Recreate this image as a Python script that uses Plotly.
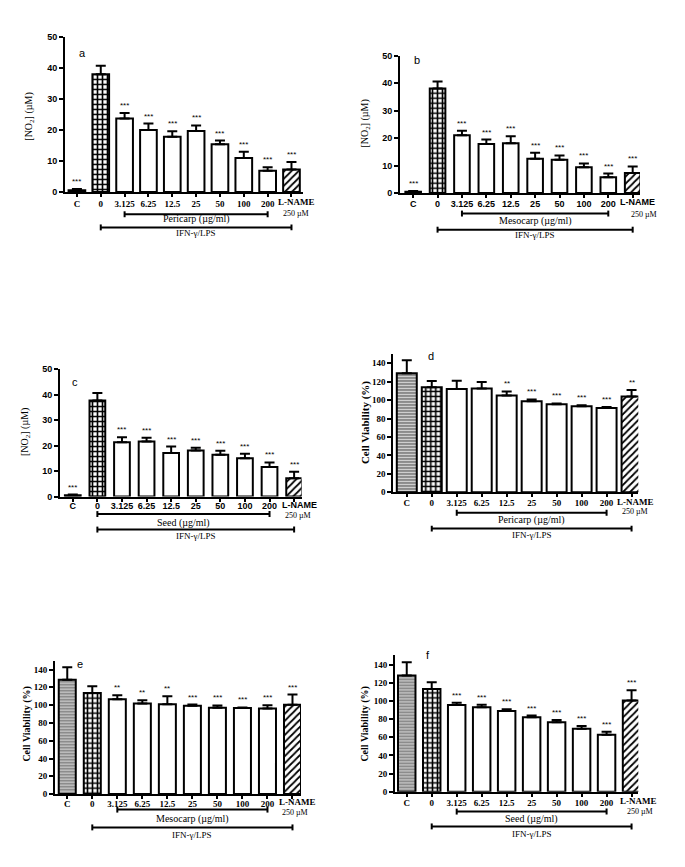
import plotly.graph_objects as go

# ---------------- data ----------------
categories = ["C", "0", "3.125", "6.25", "12.5", "25", "50", "100", "200", "L-NAME"]

no2_pericarp = [0.6, 38.0, 23.7, 20.0, 17.8, 19.7, 15.4, 11.0, 6.9, 7.3]
no2_pericarp_err = [0.4, 2.7, 1.8, 2.1, 1.8, 1.8, 1.2, 2.0, 1.1, 2.4]
no2_pericarp_sig = ["***", "", "***", "***", "***", "***", "***", "***", "***", "***"]

no2_mesocarp = [0.5, 38.1, 21.1, 17.9, 18.1, 12.5, 12.1, 9.4, 5.8, 7.3]
no2_mesocarp_err = [0.3, 2.5, 1.6, 1.6, 2.6, 2.2, 1.6, 1.4, 1.3, 2.4]
no2_mesocarp_sig = ["***", "", "***", "***", "***", "***", "***", "***", "***", "***"]

no2_seed = [0.5, 37.7, 21.3, 21.6, 17.1, 18.1, 16.4, 15.0, 11.6, 7.2]
no2_seed_err = [0.3, 2.9, 2.0, 1.5, 2.5, 1.0, 1.6, 1.8, 1.8, 2.5]
no2_seed_sig = ["***", "", "***", "***", "***", "***", "***", "***", "***", "***"]

via_pericarp = [129.0, 113.9, 112.1, 112.5, 105.0, 98.6, 95.4, 93.2, 91.4, 103.9]
via_pericarp_err = [14.2, 6.8, 8.9, 7.1, 4.3, 2.1, 1.0, 1.1, 1.1, 7.1]
via_pericarp_sig = ["", "", "", "", "**", "***", "***", "***", "***", "**"]

via_mesocarp = [128.5, 113.7, 106.7, 101.9, 101.1, 99.3, 97.0, 96.7, 96.3, 100.4]
via_mesocarp_err = [14.1, 7.4, 4.4, 3.7, 8.9, 1.4, 2.6, 0.7, 3.7, 11.5]
via_mesocarp_sig = ["", "", "**", "**", "**", "***", "***", "***", "***", "***"]

via_seed = [128.0, 113.2, 95.4, 92.9, 88.9, 82.0, 76.5, 69.3, 62.8, 100.5]
via_seed_err = [14.5, 7.2, 2.5, 2.9, 1.8, 1.8, 2.6, 3.2, 3.2, 11.2]
via_seed_sig = ["", "", "***", "***", "***", "***", "***", "***", "***", "***"]

panel_letters = ["a", "b", "c", "d", "e", "f"]
extract_labels = ["Pericarp (µg/ml)", "Mesocarp (µg/ml)", "Seed (µg/ml)",
                  "Pericarp (µg/ml)", "Mesocarp (µg/ml)", "Seed (µg/ml)"]
extract_start = ["3.125", "3.125", "0", "3.125", "3.125", "3.125"]
stim_label = "IFN-γ/LPS"
lname_dose = "250 µM"
no2_title = "[NO<sub>2</sub>] (µM)"
via_title = "Cell Viability (%)"

# ---------------- layout geometry (pixels) ----------------
W, H = 685, 867
SERIF = "Liberation Serif"
SANS = "Liberation Sans"

panels = [
    dict(vals=no2_pericarp, err=no2_pericarp_err, sig=no2_pericarp_sig, kind="no2",
         left=65, right=303.4, top=32.3, bottom=189.3, xr=[-0.5, 9.5], yr=[0, 50], dtick=10,
         xfont=SERIF, yfont=SANS, width=0.7, title_xy=(30, 113), title_size=10, letter_xy=(82, 49),
         standoff=-1, lab=10, lshift=5, dshift=5,
         off=dict(br1=22.4, lb1=27.4, br2=35.7, lb2=41.4, dose=21.5)),
    dict(vals=no2_mesocarp, err=no2_mesocarp_err, sig=no2_mesocarp_sig, kind="no2",
         left=400, right=640, top=51.3, bottom=190.3, xr=[-0.54, 9.3], yr=[0, 50], dtick=10,
         xfont=SANS, yfont=SANS, width=0.64, title_xy=(366, 120), title_size=10, letter_xy=(417, 56),
         standoff=-2, lab=8.7, lshift=5, dshift=11,
         off=dict(br1=20.7, lb1=28, br2=37, lb2=42.7, dose=21.5)),
    dict(vals=no2_seed, err=no2_seed_err, sig=no2_seed_sig, kind="no2",
         left=60, right=301.5, top=368.3, bottom=497.3, xr=[-0.52, 9.3], yr=[0, 50], dtick=10,
         xfont=SANS, yfont=SANS, width=0.64, title_xy=(25, 432), title_size=10, letter_xy=(75, 381),
         standoff=-3, lab=8.4, lshift=5, dshift=4,
         off=dict(br1=17.7, lb1=26.7, br2=33.4, lb2=39.7, dose=19.5)),
    dict(vals=via_pericarp, err=via_pericarp_err, sig=via_pericarp_sig, kind="via",
         left=393.3, right=638.3, top=353, bottom=493, xr=[-0.54, 9.27], yr=[0, 150], dtick=20,
         xfont=SERIF, yfont=SERIF, width=0.8, title_xy=(365, 423), title_size=11, letter_xy=(431, 355),
         standoff=-2, lab=9.3, lshift=4, dshift=3,
         off=dict(br1=20.7, lb1=28.3, br2=36.7, lb2=43, dose=19)),
    dict(vals=via_mesocarp, err=via_mesocarp_err, sig=via_mesocarp_sig, kind="via",
         left=55, right=301, top=663.3, bottom=798.3, xr=[-0.49, 9.34], yr=[0, 150], dtick=20,
         xfont=SERIF, yfont=SERIF, width=0.68, title_xy=(27, 727), title_size=10, letter_xy=(80, 667),
         standoff=-3, lab=8.4, lshift=5, dshift=3,
         off=dict(br1=15.7, lb1=25, br2=33.7, lb2=41, dose=19)),
    dict(vals=via_seed, err=via_seed_err, sig=via_seed_sig, kind="via",
         left=395, right=638.3, top=658, bottom=796, xr=[-0.47, 9.27], yr=[0, 150], dtick=20,
         xfont=SERIF, yfont=SERIF, width=0.7, title_xy=(365, 727), title_size=10, letter_xy=(428, 658),
         standoff=-2, lab=9, lshift=7, dshift=8,
         off=dict(br1=20, lb1=27.3, br2=35, lb2=43, dose=19.5)),
]


def group_style(cat, kind):
    if cat == "C":
        if kind == "no2":
            return "C", dict(color="black")
        return "C", dict(color="#8c8c8c",
                         pattern=dict(shape="-", fgcolor="#d4d4d4", bgcolor="#8c8c8c",
                                      size=3, solidity=0.35, fillmode="replace"))
    if cat == "0":
        return "0", dict(color="white",
                         pattern=dict(shape="+", fgcolor="black", bgcolor="white",
                                      size=5, solidity=0.55, fillmode="replace"))
    if cat == "L-NAME":
        return "L", dict(color="white",
                         pattern=dict(shape="/", fgcolor="black", bgcolor="white",
                                      size=5, solidity=0.35, fillmode="replace"))
    return "E", dict(color="white")


LAST = "L-NAME"
xs = list(range(len(categories)))
s1 = categories.index(LAST)
# the last category label sits slightly right of its bar in the original, so it is drawn separately
main_tickvals = [x for x, c in zip(xs, categories) if c != LAST]
main_ticktext = [c for c in categories if c != LAST]

fig = go.Figure()
annotations = []
shapes = []

for i, p in enumerate(panels):
    n = "" if i == 0 else str(i + 1)
    xa, ya = "x" + n, "y" + n

    groups = {}
    for j, c in enumerate(categories):
        key, mk = group_style(c, p["kind"])
        g = groups.setdefault(key, dict(idx=[], mk=mk))
        g["idx"].append(j)
    for key, g in groups.items():
        idx = g["idx"]
        mk = dict(g["mk"])
        mk["line"] = dict(color="black", width=2)
        fig.add_trace(go.Bar(
            x=[xs[j] for j in idx], y=[p["vals"][j] for j in idx], xaxis=xa, yaxis=ya,
            width=p["width"], marker=mk,
            error_y=dict(type="data", array=[p["err"][j] for j in idx],
                         arrayminus=[0] * len(idx), symmetric=False,
                         color="black", thickness=2, width=5),
            showlegend=False, hoverinfo="skip",
        ))

    hpx = p["bottom"] - p["top"]
    xfont = dict(family=p["xfont"], size=9, color="black", weight="bold")
    layout_x = dict(
        domain=[p["left"] / W, p["right"] / W], range=p["xr"], anchor=ya,
        tickmode="array", tickvals=main_tickvals, ticktext=main_ticktext, tickangle=0,
        ticklabelstandoff=p["standoff"], tickfont=xfont,
        showline=True, linecolor="black", linewidth=2, ticks="outside", ticklen=3,
        tickwidth=1.5, tickcolor="black", showgrid=False, zeroline=False, fixedrange=True,
        minor=dict(tickmode="array", tickvals=[xs[s1]], ticks="outside", ticklen=3,
                   tickwidth=1.5, tickcolor="black", showgrid=False),
    )
    layout_y = dict(
        domain=[1 - p["bottom"] / H, 1 - p["top"] / H], range=p["yr"], anchor=xa,
        dtick=p["dtick"], tick0=0,
        tickfont=dict(family=p["yfont"], size=9, color="black", weight="bold"),
        showline=True, linecolor="black", linewidth=2, ticks="outside", ticklen=4,
        tickwidth=1.5, tickcolor="black", showgrid=False, zeroline=False, fixedrange=True,
    )
    fig.update_layout(**{("xaxis" + n): layout_x, ("yaxis" + n): layout_y})

    # significance stars
    for j, s in enumerate(p["sig"]):
        if s:
            annotations.append(dict(
                x=xs[j], y=p["vals"][j] + p["err"][j], xref=xa, yref=ya, text=s,
                showarrow=False, xanchor="center", yanchor="bottom", yshift=1,
                font=dict(family=SANS, size=8, color="black")))

    off = p["off"]
    ydom = ya + " domain"

    # last category label
    annotations.append(dict(x=xs[s1], y=-p["lab"] / hpx, xref=xa, yref=ydom, text=LAST,
                            showarrow=False, xanchor="center", yanchor="middle",
                            xshift=p["lshift"], font=xfont))

    def bracket(x0, x1, offpx):
        yy = -offpx / hpx
        cap = 3.0 / hpx
        shapes.append(dict(type="line", xref=xa, yref=ydom, x0=x0, x1=x1, y0=yy, y1=yy,
                           line=dict(color="black", width=2)))
        for xx in (x0, x1):
            shapes.append(dict(type="line", xref=xa, yref=ydom, x0=xx, x1=xx,
                               y0=yy - cap, y1=yy + cap, line=dict(color="black", width=2)))

    e0 = categories.index(extract_start[i])
    e1 = categories.index("200")
    bracket(e0, e1, off["br1"])
    annotations.append(dict(x=(e0 + e1) / 2, y=-off["lb1"] / hpx, xref=xa, yref=ydom,
                            text=extract_labels[i], showarrow=False, xanchor="center",
                            yanchor="middle", font=dict(family=SERIF, size=10, color="black")))
    s0 = categories.index("0")
    bracket(s0, s1, off["br2"])
    annotations.append(dict(x=(s0 + s1) / 2, y=-off["lb2"] / hpx, xref=xa, yref=ydom,
                            text=stim_label, showarrow=False, xanchor="center",
                            yanchor="middle", font=dict(family=SERIF, size=9, color="black")))
    annotations.append(dict(x=xs[s1], y=-off["dose"] / hpx, xref=xa, yref=ydom,
                            text=lname_dose, showarrow=False, xanchor="center",
                            yanchor="middle", xshift=p["dshift"],
                            font=dict(family=SERIF, size=8, color="black")))

    # y title
    tx, ty = p["title_xy"]
    ttext = no2_title if p["kind"] == "no2" else "<b>" + via_title + "</b>"
    annotations.append(dict(x=tx / W, y=1 - ty / H, xref="paper", yref="paper",
                            text=ttext, textangle=-90, showarrow=False,
                            xanchor="center", yanchor="middle",
                            font=dict(family=SERIF, size=p["title_size"], color="black")))
    lx, ly = p["letter_xy"]
    annotations.append(dict(x=lx / W, y=1 - ly / H, xref="paper", yref="paper",
                            text=panel_letters[i], showarrow=False,
                            xanchor="center", yanchor="middle",
                            font=dict(family=SANS, size=11, color="black")))

fig.update_layout(
    width=W, height=H, margin=dict(l=0, r=0, t=0, b=0),
    paper_bgcolor="white", plot_bgcolor="white", barmode="overlay",
    annotations=annotations, shapes=shapes,
)

fig.write_html("out.html", config={"displayModeBar": False},
               post_script="document.body.style.margin='0px';")
